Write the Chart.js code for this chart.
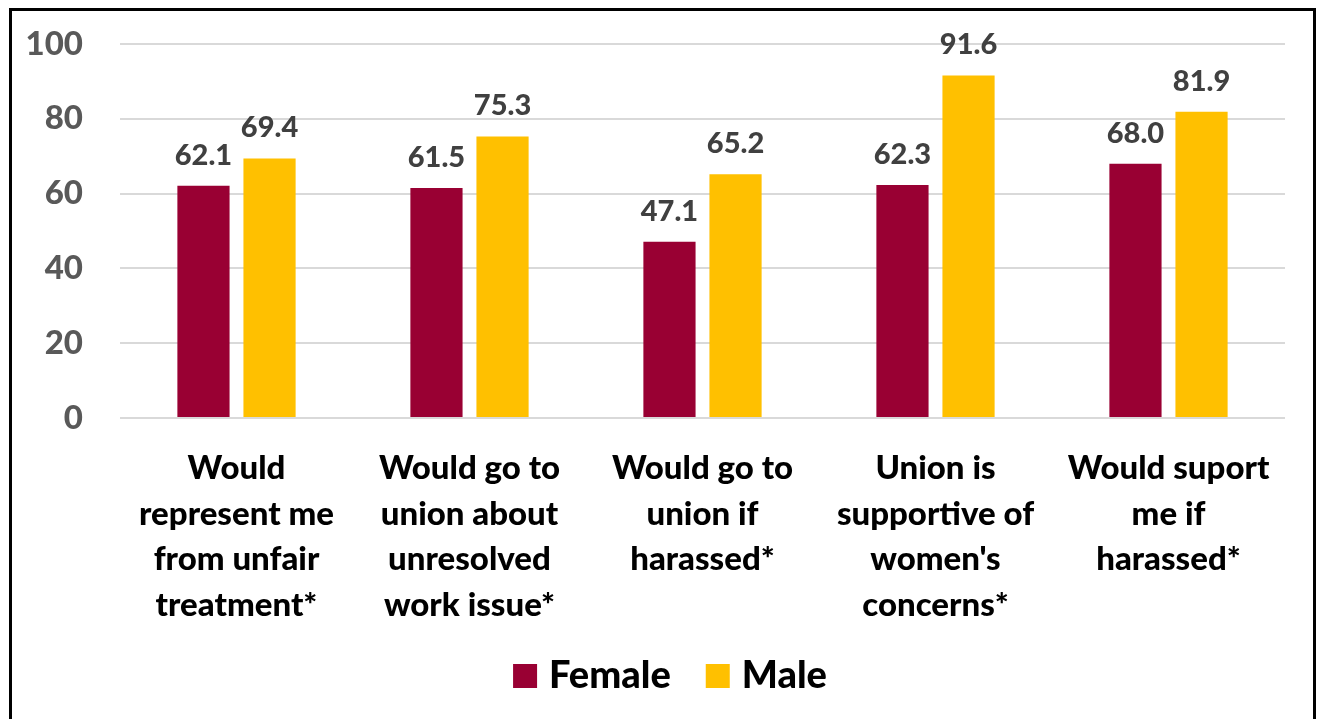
<!DOCTYPE html>
<html lang="en">
<head>
  <meta charset="UTF-8">
  <title>Union support by gender</title>
  <script src="https://cdn.jsdelivr.net/npm/chart.js"></script>
  <style>
    html, body {
      margin: 0;
      padding: 0;
      background: #fff;
      overflow: hidden;
    }
    .frame {
      position: absolute;
      left: 9px;
      top: 8px;
      width: 1307px;
      height: 800px;
      box-sizing: border-box;
      border: 3px solid #000;
    }
    .grafico {
      position: absolute;
      left: 0;
      top: 0;
      width: 1317px;
      height: 719px;
    }
  </style>
</head>
<body>
  <div class="frame"></div>
  <div class="grafico"><canvas id="grafico-sindicato" width="1317" height="719"></canvas></div>

  <script>
    // dados
    const categorias = [
      ['Would', 'represent me', 'from unfair', 'treatment*'],
      ['Would go to', 'union about', 'unresolved', 'work issue*'],
      ['Would go to', 'union if', 'harassed*'],
      ['Union is', 'supportive of', "women's", 'concerns*'],
      ['Would suport', 'me if', 'harassed*']
    ];
    const feminino = [62.1, 61.5, 47.1, 62.3, 68.0];
    const masculino = [69.4, 75.3, 65.2, 91.6, 81.9];
    const ticksY = [0, 20, 40, 60, 80, 100];

    const fonte = 'Lato, "Open Sans", sans-serif';
    const peso = '900';

    // rótulos de valor acima das barras
    const rotulosValor = {
      id: 'rotulosValor',
      afterDatasetsDraw(chart) {
        const ctx = chart.ctx;
        ctx.save();
        ctx.font = peso + ' 29px ' + fonte;
        ctx.fillStyle = '#404040';
        ctx.textAlign = 'center';
        ctx.textBaseline = 'alphabetic';
        chart.data.datasets.forEach((ds, i) => {
          chart.getDatasetMeta(i).data.forEach((bar, j) => {
            ctx.fillText(ds.data[j].toFixed(1), bar.x, bar.y - 21);
          });
        });
        ctx.restore();
      }
    };

    // legenda desenhada à mão, centrada embaixo
    const legendaBaixo = {
      id: 'legendaBaixo',
      afterDraw(chart) {
        const ctx = chart.ctx;
        ctx.save();
        ctx.font = peso + ' 38px ' + fonte;
        const caixa = 24, espaco = 12, entreItens = 35;
        const itens = chart.data.datasets.map(ds => ({
          texto: ds.label, cor: ds.backgroundColor, w: ctx.measureText(ds.label).width
        }));
        let total = 0;
        itens.forEach((it, i) => { total += caixa + espaco + it.w + (i ? entreItens : 0); });
        let x = 670 - total / 2;
        const base = 688;
        itens.forEach(it => {
          ctx.fillStyle = it.cor;
          ctx.fillRect(x, base - caixa, caixa, caixa);
          x += caixa + espaco;
          ctx.fillStyle = '#000';
          ctx.textBaseline = 'alphabetic';
          ctx.fillText(it.texto, x, base);
          x += it.w + entreItens;
        });
        ctx.restore();
      }
    };

    const ctxSindicato = document.getElementById('grafico-sindicato').getContext('2d');
    const graficoSindicato = new Chart(ctxSindicato, {
      type: 'bar',
      data: {
        labels: categorias,
        datasets: [{
          label: 'Female',
          data: feminino,
          backgroundColor: '#990033',
          categoryPercentage: 0.567,
          barPercentage: 0.79
        }, {
          label: 'Male',
          data: masculino,
          backgroundColor: '#FFC000',
          categoryPercentage: 0.567,
          barPercentage: 0.79
        }]
      },
      plugins: [rotulosValor, legendaBaixo],
      options: {
        responsive: false,
        animation: false,
        devicePixelRatio: 1,
        layout: {
          padding: { left: 0, right: 32, top: 44, bottom: 0 }
        },
        plugins: {
          legend: { display: false },
          tooltip: { enabled: false },
          title: { display: false }
        },
        scales: {
          x: {
            grid: { display: false },
            border: { display: false },
            ticks: {
              color: '#000',
              padding: 20,
              maxRotation: 0,
              autoSkip: false,
              font: { family: fonte, size: 33, weight: peso, lineHeight: 1.38 }
            },
            afterFit(scale) {
              scale.height = 301;
              scale.paddingLeft = 0;
              scale.paddingRight = 0;
            }
          },
          y: {
            min: 0,
            max: 100,
            afterBuildTicks(scale) { scale.ticks = ticksY.map(v => ({ value: v })); },
            grid: { color: '#d9d9d9', lineWidth: 2, drawTicks: false },
            border: { display: false },
            ticks: {
              color: '#595959',
              padding: 37,
              font: { family: fonte, size: 33, weight: peso }
            },
            afterFit(scale) {
              scale.width = 120;
              scale.paddingTop = 0;
              scale.paddingBottom = 0;
            }
          }
        }
      }
    });
  </script>
</body>
</html>
